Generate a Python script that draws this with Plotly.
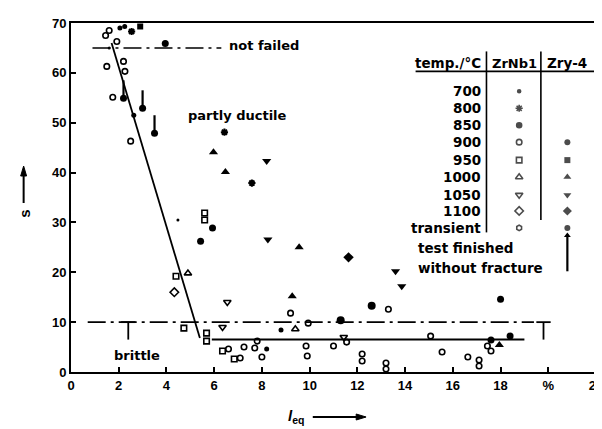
import plotly.graph_objects as go

# ---------------- data ----------------
zrnb1_700_x = [1.6, 4.48]
zrnb1_700_y = [65.0, 30.5]
zrnb1_800_x = [2.54, 6.43, 7.58]
zrnb1_800_y = [68.3, 48.1, 37.9]
zrnb1_850_x = [2.05, 2.25, 2.63, 8.2, 8.8]
zrnb1_850_y = [69.0, 69.3, 51.5, 4.6, 8.4]
zrnb1_900_x = [1.45, 1.6, 1.92, 1.5, 2.2, 2.26, 1.75, 2.5, 9.2, 9.94, 13.3, 15.07, 15.55,
               16.63, 7.8, 7.7, 7.25, 8.0, 9.85, 9.9, 11.0, 11.55, 12.2, 12.2, 13.2, 13.2,
               17.1, 17.1, 17.45, 17.6, 6.6, 7.09]
zrnb1_900_y = [67.5, 68.5, 66.3, 61.3, 62.3, 60.3, 55.1, 46.3, 11.8, 9.8, 12.6, 7.2, 4.0,
               3.0, 6.2, 4.8, 5.0, 3.0, 5.2, 3.2, 5.2, 6.0, 3.6, 2.2, 1.8, 0.6,
               2.4, 1.2, 5.2, 4.2, 4.6, 2.8]
zrnb1_950_x = [5.6, 5.6, 4.4, 4.73, 5.68, 5.68, 6.35, 6.84]
zrnb1_950_y = [31.9, 30.5, 19.2, 8.8, 7.8, 6.2, 4.2, 2.6]
zrnb1_1000_x = [4.9, 9.4]
zrnb1_1000_y = [19.8, 8.6]
zrnb1_1050_x = [6.55, 6.35, 11.43]
zrnb1_1050_y = [14.0, 9.0, 7.0]
zrnb1_1100_x = [4.33]
zrnb1_1100_y = [16.0]

zry4_900_x = [3.95, 5.93, 5.43, 18.0, 17.6, 18.4, 2.2, 3.0, 3.5]
zry4_900_y = [65.9, 28.9, 26.2, 14.6, 6.4, 7.2, 54.9, 52.9, 47.9]
zry4_950_x = [2.9]
zry4_950_y = [69.3]
zry4_1000_x = [5.97, 6.47, 9.56, 9.27, 17.95]
zry4_1000_y = [44.1, 40.1, 25.0, 15.2, 5.4]
zry4_1050_x = [8.2, 8.25, 13.6, 13.86]
zry4_1050_y = [42.3, 26.6, 20.2, 17.2]
zry4_1100_x = [11.63]
zry4_1100_y = [23.0]
zry4_trans_x = [12.6, 11.3]
zry4_trans_y = [13.3, 10.4]

# tests finished without fracture (arrow marks)
nofrac_x = [2.2, 3.0, 3.5]
nofrac_y = [54.9, 52.9, 47.9]

# guide lines
fit_x = [1.7, 5.4]
fit_y = [66.0, 6.8]
lower_x = [5.9, 19.0]
lower_y = [6.5, 6.5]
brittle_lim_x = [0.7, 19.4]
brittle_lim_y = [10, 10]
notfailed_x = [0.9, 6.3]
notfailed_y = [65, 65]

x_tickvals = [0, 2, 4, 6, 8, 10, 12, 14, 16, 18, 20, 22]
x_ticktext = ["0", "2", "4", "6", "8", "10", "12", "14", "16", "18", "%", "22"]
y_tickvals = [0, 10, 20, 30, 40, 50, 60, 70]

legend_temps = ["700", "800", "850", "900", "950", "1000", "1050", "1100", "transient"]

FONT = "Liberation Sans"
WIDE = "DejaVu Sans"
BLACK = "black"

fig = go.Figure()

def add(x, y, symbol, size, lw=1.6):
    fig.add_trace(go.Scatter(x=x, y=y, mode="markers", showlegend=False,
                             marker=dict(symbol=symbol, size=size, color=BLACK,
                                         line=dict(color=BLACK, width=lw))))

def line(x, y, dash="solid", w=1.6):
    fig.add_trace(go.Scatter(x=x, y=y, mode="lines", showlegend=False,
                             line=dict(color=BLACK, width=w, dash=dash)))

# guide lines
line(fit_x, fit_y, w=1.8)
line(lower_x, lower_y, w=2)
line(brittle_lim_x, brittle_lim_y, dash="18px,5px,3px,5px", w=1.6)
line(notfailed_x, notfailed_y, dash="18px,5px,3px,5px", w=1.6)

# T markers (boundaries of brittle band)
for tx in [2.4, 19.8]:
    line([tx - 0.3, tx + 0.3], [10, 10], w=1.8)
    line([tx, tx], [10, 6.5], w=1.8)

# "test finished without fracture" arrows (vertical strokes above the points)
for ax_, ay_ in zip(nofrac_x, nofrac_y):
    line([ax_, ax_], [ay_, ay_ + 3.6], w=2.2)

# data
add(zrnb1_700_x, zrnb1_700_y, "circle", 3, 0)
add(zrnb1_800_x, zrnb1_800_y, "asterisk-open", 6, 2)
add(zrnb1_850_x, zrnb1_850_y, "circle", 5, 0)
add(zrnb1_900_x, zrnb1_900_y, "circle-open", 5.5)
add(zrnb1_950_x, zrnb1_950_y, "square-open", 5.5)
add(zrnb1_1000_x, zrnb1_1000_y, "triangle-up-open", 6.5)
add(zrnb1_1050_x, zrnb1_1050_y, "triangle-down-open", 6.5)
add(zrnb1_1100_x, zrnb1_1100_y, "diamond-open", 6.5)
add(zry4_900_x, zry4_900_y, "circle", 7, 0)
add(zry4_950_x, zry4_950_y, "square", 6, 0)
add(zry4_1000_x, zry4_1000_y, "triangle-up", 8, 0)
add(zry4_1050_x, zry4_1050_y, "triangle-down", 8, 0)
add(zry4_1100_x, zry4_1100_y, "diamond", 8, 0)
add(zry4_trans_x, zry4_trans_y, "circle", 8, 0)

annotations = []

# ---------------- table-style legend ----------------
row_y = [56.3, 52.9, 49.5, 46.1, 42.5, 39.1, 35.5, 32.3, 28.9]
col_temp = 17.25
col_zrnb = 18.78
col_zry = 20.8
tf = dict(family=WIDE, size=13.5, color=BLACK, weight="bold")
annotations.append(dict(x=col_temp, y=61.9, xref="x", yref="y", text="temp./°C",
                        xanchor="right", yanchor="middle", showarrow=False, font=tf))
annotations.append(dict(x=18.58, y=61.9, xref="x", yref="y", text="ZrNb1",
                        xanchor="center", yanchor="middle", showarrow=False,
                        font=dict(family=WIDE, size=13, color=BLACK, weight="bold")))
annotations.append(dict(x=col_zry, y=61.9, xref="x", yref="y", text="Zry-4",
                        xanchor="center", yanchor="middle", showarrow=False, font=tf))
for t, ry in zip(legend_temps, row_y):
    annotations.append(dict(x=col_temp, y=ry, xref="x", yref="y", text=t,
                            xanchor="right", yanchor="middle", showarrow=False, font=tf))
annotations.append(dict(x=14.45, y=24.8, xref="x", yref="y", text="test finished",
                        xanchor="left", yanchor="middle", showarrow=False, font=tf))
annotations.append(dict(x=14.45, y=20.8, xref="x", yref="y", text="without fracture",
                        xanchor="left", yanchor="middle", showarrow=False, font=tf))
line([col_zry, col_zry], [20.2, 27.6], w=2.2)
fig.add_trace(go.Scatter(x=[col_zry], y=[27.4], mode="markers", showlegend=False,
                         marker=dict(symbol="triangle-up", size=6, color=BLACK)))

line([14.44, 22], [60.3, 60.3], w=1.6)
line([17.41, 17.41], [64.3, 28.0], w=1.6)
line([19.69, 19.69], [64.3, 30.5], w=1.6)

zr_sym = ["circle", "asterisk-open", "circle", "circle-open", "square-open",
          "triangle-up-open", "triangle-down-open", "diamond-open", "hexagon-open"]
zr_size = [3, 6, 5, 5.5, 5.5, 6.5, 6.5, 6.5, 5.5]
fig.add_trace(go.Scatter(x=[col_zrnb] * 9, y=row_y, mode="markers", showlegend=False,
                         marker=dict(symbol=zr_sym, size=zr_size, color=BLACK,
                                     line=dict(color=BLACK, width=1.6))))
zy_sym = ["circle", "square", "triangle-up", "triangle-down", "diamond", "circle"]
fig.add_trace(go.Scatter(x=[col_zry] * 6, y=row_y[3:], mode="markers", showlegend=False,
                         marker=dict(symbol=zy_sym, size=[6, 6, 7, 7, 7, 6], color=BLACK,
                                     line=dict(color=BLACK, width=0))))

# ---------------- region labels ----------------
lf = dict(family=WIDE, size=13, color=BLACK, weight="bold")
annotations.append(dict(x=6.55, y=65.4, xref="x", yref="y", text="not failed",
                        xanchor="left", yanchor="middle", showarrow=False, font=lf))
annotations.append(dict(x=4.8, y=51.5, xref="x", yref="y", text="partly ductile",
                        xanchor="left", yanchor="middle", showarrow=False, font=lf))
annotations.append(dict(x=1.7, y=3.4, xref="x", yref="y", text="brittle",
                        xanchor="left", yanchor="middle", showarrow=False, font=lf))
annotations.append(dict(x=-0.35, y=65, xref="x", yref="y", text="%",
                        xanchor="right", yanchor="middle", showarrow=False,
                        font=dict(family=FONT, size=13, color=BLACK, weight="bold")))

# axis titles (positioned as in the reference)
def px(xp):
    return (xp - 63) / 532.0

def py(yp):
    return (364 - yp) / 349.0

annotations.append(dict(x=px(291), y=py(408), xref="paper", yref="paper",
                        text="<i>l</i><sub>eq</sub>", xanchor="center", yanchor="middle",
                        showarrow=False,
                        font=dict(family=FONT, size=15, color=BLACK, weight="bold")))
annotations.append(dict(x=px(15), y=py(206), xref="paper", yref="paper",
                        text="s", textangle=-90, xanchor="center", yanchor="middle",
                        showarrow=False,
                        font=dict(family=FONT, size=15, color=BLACK, weight="bold")))

shapes = [
    dict(type="line", xref="paper", yref="paper", x0=px(308), x1=px(354), y0=py(409), y1=py(409),
         line=dict(color=BLACK, width=2)),
    dict(type="path", xref="paper", yref="paper",
         path=f"M {px(352)},{py(406)} L {px(362)},{py(409)} L {px(352)},{py(412)} Z",
         fillcolor=BLACK, line=dict(color=BLACK, width=1)),
    dict(type="line", xref="paper", yref="paper", x0=px(15), x1=px(15), y0=py(195), y1=py(164),
         line=dict(color=BLACK, width=2)),
    dict(type="path", xref="paper", yref="paper",
         path=f"M {px(12)},{py(168)} L {px(15)},{py(158)} L {px(18)},{py(168)} Z",
         fillcolor=BLACK, line=dict(color=BLACK, width=1)),
]

fig.update_layout(
    width=602, height=429,
    margin=dict(l=63, r=7, t=15, b=65),
    paper_bgcolor="white", plot_bgcolor="white",
    font=dict(family=FONT, size=13, color=BLACK),
    annotations=annotations,
    shapes=shapes,
    xaxis=dict(range=[0, 22], tickvals=x_tickvals, ticktext=x_ticktext,
               showgrid=False, zeroline=False, showline=True, linecolor=BLACK,
               linewidth=2, mirror=True, ticks="inside", ticklen=5, tickwidth=1.5,
               tickcolor=BLACK, tickfont=dict(family=FONT, size=13, color=BLACK, weight="bold")),
    yaxis=dict(range=[0, 70], tickvals=y_tickvals,
               showgrid=False, zeroline=False, showline=True, linecolor=BLACK,
               linewidth=2, mirror=True, ticks="inside", ticklen=5, tickwidth=1.5,
               tickcolor=BLACK, tickfont=dict(family=FONT, size=13, color=BLACK, weight="bold")),
)

fig.write_html("out.html")
